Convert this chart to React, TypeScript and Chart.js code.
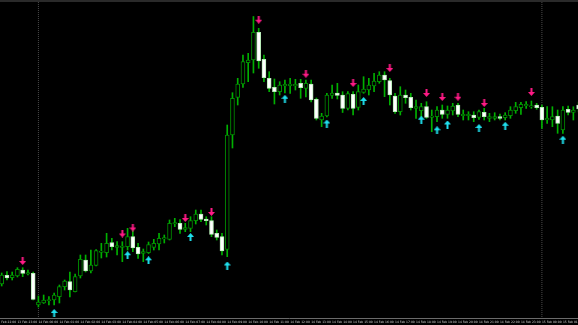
import React, { useEffect, useRef } from 'react';
import { Chart, registerables } from 'chart.js';

Chart.register(...registerables);

// M15 candles, price in chart points
const opens = [34, 42.7, 40.3, 42, 48, 44, 44.7, 13, 15, 17.3, 18, 21.3, 31.3, 36.3, 26.3, 42, 58, 47, 52.7, 65.7, 65.3, 75.3, 70.7, 70.5, 71.3, 81.3, 70.7, 64.7, 65.3, 70.7, 74, 79, 78.7, 94, 94.7, 88.7, 89.7, 97.3, 104, 99, 97.3, 84.7, 81.3, 68.7, 183, 220.7, 234, 255.3, 258, 285.7, 258.7, 239.7, 230.7, 226.3, 232, 232.3, 232, 234.7, 229.7, 234, 218.7, 198, 202, 222.5, 225, 223, 209.7, 223.7, 210.7, 225.7, 228, 232, 236.3, 243, 237.3, 222, 206.3, 223, 220.7, 209.7, 207.3, 211.3, 200.7, 201.3, 208, 203.7, 207, 213, 202.3, 202.3, 203, 200.7, 205.7, 199.7, 199.7, 201.3, 200.3, 202.3, 207.3, 210.3, 212, 211, 213, 210.7, 198, 198, 202, 188, 208.7, 205.7, 213];
const highs = [45, 46.3, 46, 50.3, 50.3, 48, 46, 22, 23, 21.3, 25, 33, 38, 46, 44, 63, 63, 68, 68.5, 74.7, 84.7, 79.7, 76.3, 76.3, 89.7, 89.7, 74.7, 69, 76, 78.7, 84.7, 83, 98, 99.7, 98.5, 94.7, 101.3, 108, 108, 101.3, 101.3, 88, 84.7, 193, 225.3, 239.7, 263, 264.7, 301.5, 289.7, 263, 246.3, 239, 236.3, 238, 239.7, 238.7, 238.7, 238, 238, 220, 204.7, 224.7, 233, 234.7, 226.3, 226.3, 226.3, 233, 241.3, 239.7, 244.7, 246.3, 246.3, 239.7, 224.7, 231.3, 228, 224.7, 218, 214.7, 216.3, 208, 211.3, 213, 212, 214.7, 214.7, 208, 206.3, 206.3, 208, 209.7, 204.7, 205.3, 204, 205.3, 211.3, 215.7, 215.7, 216.3, 217, 214.7, 213, 211.3, 211.3, 208, 211.3, 212, 211.3, 216];
const lows = [32, 38, 38, 41, 41.3, 43, 18, 11, 14.5, 13, 13, 15, 28, 21, 26, 40, 46, 45, 52, 60, 61, 68, 63, 56.3, 68, 66.3, 59.7, 56.3, 64.5, 68, 68, 75, 78, 91.3, 84.7, 86.3, 86.3, 94, 96.3, 93, 81.3, 78, 63, 61.3, 170, 213, 230.7, 236.3, 245, 249.7, 236.3, 226.3, 214, 223, 225, 224.7, 228, 219.7, 221, 216, 198, 191.3, 201, 219.7, 219, 205.5, 208, 203, 208, 224.7, 223, 226.3, 234.7, 221.3, 213, 204.7, 203, 214.7, 208, 199.7, 201.3, 199.7, 186.3, 196.3, 199.7, 199.7, 203, 201.3, 198, 198, 196.3, 198.7, 198, 196.3, 198, 198, 198, 199.7, 204.7, 203.7, 209.7, 209.7, 208.7, 189.7, 194.7, 191.3, 184.7, 184.7, 203, 198, 206];
const closes = [43, 40, 43, 48.7, 44.7, 45.5, 18.7, 16, 18, 18.5, 23, 31.3, 37, 28, 41.5, 58.7, 47, 53, 67.3, 67, 74.7, 71.3, 72.3, 72, 81.3, 70, 64, 66.3, 73.3, 74.7, 79.7, 80.3, 94.7, 95.5, 88.7, 90.3, 97.3, 104, 98.7, 97.3, 83.7, 80.7, 67, 183, 219.7, 234, 256.3, 258, 285.7, 257, 240.3, 229.7, 226.3, 233, 233.7, 234, 233.7, 230.3, 234.7, 218, 199.7, 202, 223, 225, 222.5, 209.7, 224.5, 209.7, 226.3, 229, 233, 237, 243, 238, 223, 206.3, 223, 220.3, 210.3, 211.3, 211.3, 200.7, 202, 208, 203.7, 208, 212, 203.7, 203.7, 203.7, 200.3, 206.3, 201.3, 201.3, 201.3, 199.7, 203, 208, 211.3, 213.7, 213.7, 212.3, 210.3, 198, 199.7, 201.3, 194.7, 208, 205.7, 208, 209];

// arrow signals: candle index and level
const sellIdx = [4, 23, 25, 35, 40, 49, 58, 67, 74, 81, 84, 87, 92, 101];
const sellLevel = [57, 84.5, 90.5, 100, 106, 298.3, 244.3, 235, 250, 225, 221, 221.3, 215, 226];
const buyIdx = [10, 24, 28, 36, 43, 54, 62, 69, 80, 83, 85, 91, 96, 107];
const buyLevel = [5, 62.8, 57.7, 81, 52.5, 219.2, 194.5, 217, 198.3, 187.7, 193.5, 190, 192.2, 178.3];

// day separators
const separators = [7, 103];

// time axis
const tickIdx = [-1, 3, 7, 11, 15, 19, 23, 27, 31, 35, 39, 43, 47, 51, 55, 59, 63, 67, 71, 75, 79, 83, 87, 91, 95, 99, 103, 107];
const tickLabels = [
  '13 Feb 22:00', '13 Feb 23:00',
  '14 Feb 00:00', '14 Feb 01:00', '14 Feb 02:00', '14 Feb 03:00', '14 Feb 04:00', '14 Feb 05:00',
  '14 Feb 06:00', '14 Feb 07:00', '14 Feb 08:00', '14 Feb 09:00', '14 Feb 10:00', '14 Feb 11:00',
  '14 Feb 12:00', '14 Feb 13:00', '14 Feb 14:00', '14 Feb 15:00', '14 Feb 16:00', '14 Feb 17:00',
  '14 Feb 18:00', '14 Feb 19:00', '14 Feb 20:00', '14 Feb 21:00', '14 Feb 22:00', '14 Feb 23:00',
  '15 Feb 00:00', '15 Feb 01:00',
];

const X_MIN = -0.3241;
const X_MAX = 109.883;
const Y_MIN = 0;
const Y_MAX = 318;

const GREEN = '#00b000';
const EDGE = '#008c00';
const BEAR_EDGE = '#b8ecb8';
const PINK = '#ff1a86';
const CYAN = '#1fe0ee';

function makeArrow(color: string, up: boolean): HTMLCanvasElement {
  const c = document.createElement('canvas');
  c.width = 7;
  c.height = 8;
  const g = c.getContext('2d')!;
  g.fillStyle = color;
  g.beginPath();
  if (up) {
    g.moveTo(3.5, 0);
    g.lineTo(7, 4);
    g.lineTo(4.5, 4);
    g.lineTo(4.5, 8);
    g.lineTo(2.5, 8);
    g.lineTo(2.5, 4);
    g.lineTo(0, 4);
  } else {
    g.moveTo(3.5, 8);
    g.lineTo(7, 4);
    g.lineTo(4.5, 4);
    g.lineTo(4.5, 0);
    g.lineTo(2.5, 0);
    g.lineTo(2.5, 4);
    g.lineTo(0, 4);
  }
  g.closePath();
  g.fill();
  return c;
}

export default function App() {
  const ref = useRef<HTMLCanvasElement | null>(null);

  useEffect(() => {
    if (!ref.current) return;
    const wickData = opens.map((_, i) => ({ x: i, y: [lows[i], highs[i]] }));
    const bodyData = opens.map((o, i) => ({ x: i, y: [o, closes[i]] }));
    const isBull = opens.map((o, i) => closes[i] >= o);
    const bodyBg = isBull.map((b) => (b ? '#000000' : '#ffffff'));
    const bodyEdge = isBull.map((b) => (b ? EDGE : BEAR_EDGE));
    const sellData = sellIdx.map((x, i) => ({ x, y: sellLevel[i] }));
    const buyData = buyIdx.map((x, i) => ({ x, y: buyLevel[i] }));
    const sepData: any[] = [];
    separators.forEach((s) => {
      sepData.push({ x: s, y: Y_MAX }, { x: s, y: Y_MIN }, { x: s, y: null });
    });

    const chart = new Chart(ref.current, {
      type: 'bar',
      data: {
        datasets: [
          {
            type: 'line',
            label: 'separator',
            data: sepData,
            borderColor: '#4a4a4a',
            borderWidth: 1,
            borderDash: [1, 1],
            pointRadius: 0,
            spanGaps: false,
            order: 3,
          } as any,
          {
            type: 'bar',
            label: 'wicks',
            data: wickData,
            backgroundColor: GREEN,
            barThickness: 1,
            grouped: false,
            order: 2,
          } as any,
          {
            type: 'bar',
            label: 'bodies',
            data: bodyData,
            backgroundColor: bodyBg,
            borderColor: bodyEdge,
            borderWidth: 1,
            borderSkipped: false,
            barThickness: 4,
            grouped: false,
            order: 1,
          } as any,
          {
            type: 'scatter',
            label: 'sell',
            data: sellData,
            pointStyle: makeArrow(PINK, false),
            order: 0,
          } as any,
          {
            type: 'scatter',
            label: 'buy',
            data: buyData,
            pointStyle: makeArrow(CYAN, true),
            order: 0,
          } as any,
        ],
      },
      options: {
        animation: false,
        responsive: false,
        maintainAspectRatio: false,
        events: [],
        layout: { padding: 0, autoPadding: false },
        plugins: { legend: { display: false }, tooltip: { enabled: false } },
        scales: {
          x: {
            type: 'linear',
            min: X_MIN,
            max: X_MAX,
            offset: false,
            grid: { display: false, drawTicks: false },
            border: { display: true, color: '#6a6a6a', width: 1 },
            afterBuildTicks: (scale: any) => {
              scale.ticks = tickIdx.map((v) => ({ value: v }));
            },
            afterFit: (scale: any) => {
              scale.paddingLeft = 0;
              scale.paddingRight = 0;
              scale.paddingTop = 0;
              scale.paddingBottom = 0;
              scale.height = 7;
            },
            ticks: {
              autoSkip: false,
              maxRotation: 0,
              minRotation: 0,
              align: 'start',
              padding: 2,
              color: '#d0d0d0',
              font: { size: 3, family: 'DejaVu Sans' },
              callback: (_v: any, idx: number) => tickLabels[idx],
            },
          },
          y: { display: false, min: Y_MIN, max: Y_MAX },
        },
      } as any,
    });
    return () => chart.destroy();
  }, []);

  return (
    <div style={{ position: 'fixed', left: 0, top: 0, width: 578, height: 325, background: '#000', overflow: 'hidden' }}>
      <canvas ref={ref} width={578} height={325} style={{ display: 'block' }} />
      <div style={{ position: 'absolute', left: 0, top: 0, width: 578, height: 2, background: '#2a2a2a' }} />
    </div>
  );
}
